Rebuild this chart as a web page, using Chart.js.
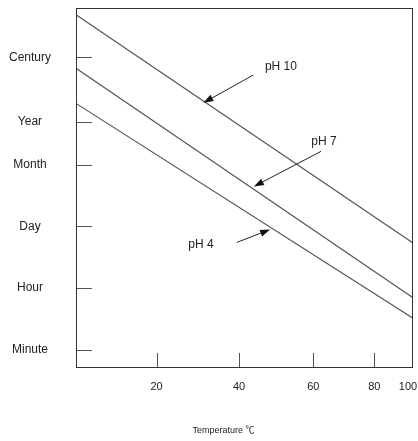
<!DOCTYPE html>
<html>
<head>
    <title>Stability vs Temperature</title>
    <script src="https://cdn.jsdelivr.net/npm/chart.js@4.4.0/dist/chart.umd.min.js"></script>
    <style>
        html, body {
            margin: 0;
            padding: 0;
            background: #fff;
        }
        .chart-box {
            width: 418px;
            height: 441px;
        }
    </style>
</head>
<body>
    <div class="chart-box">
        <canvas id="phChart"></canvas>
    </div>

    <script>
        // vertical axis: time labels and where each one sits (axis is not even)
        const timeLabels = ['Minute', 'Hour', 'Day', 'Month', 'Year', 'Century'];
        const timeAt = [1, 2, 3, 4, 4.7, 5.75];

        // horizontal axis: temperature labels and their place on the axis
        const tempLabels = ['20', '40', '60', '80', '100'];
        const tempAt = [23.9, 48.4, 70.4, 88.5, 98.5];
        const tempTitle = 'Temperature ℃';

        // the three straight lines, start and end value
        const seriesNames = ['pH 10', 'pH 7', 'pH 4'];
        const lineX = [0, 100];
        const ph10 = [6.44, 2.73];
        const ph7 = [5.57, 1.84];
        const ph4 = [5.00, 1.51];

        // callout text and arrow (tail -> tip) for each line, in axis units
        const labelAt = [[60.8, 5.60], [73.6, 4.38], [37.1, 2.70]];
        const arrowFrom = [[52.6, 5.46], [72.7, 4.22], [47.7, 2.74]];
        const arrowTo = [[37.8, 5.01], [52.8, 3.65], [57.6, 2.95]];

        const FONT = "'Liberation Sans', Arial, 'Noto Sans CJK KR', sans-serif";

        const toPoints = ys => lineX.map((x, i) => ({ x: x, y: ys[i] }));

        // keep the plot box where it is, labels may hang over the edge
        const noPad = s => {
            s.paddingTop = 0;
            s.paddingBottom = 0;
            s.paddingLeft = 0;
            s.paddingRight = 0;
        };

        // frame, inward tick marks, axis title and the pH callouts
        const decor = {
            id: 'decor',
            afterDatasetsDraw(chart) {
                const { ctx, chartArea: a, scales: { x, y } } = chart;
                ctx.save();

                const seg = (x1, y1, x2, y2) => {
                    ctx.beginPath();
                    ctx.moveTo(x1, y1);
                    ctx.lineTo(x2, y2);
                    ctx.stroke();
                };

                ctx.lineWidth = 1;
                ctx.strokeStyle = '#555';
                timeAt.forEach(v => {
                    const py = Math.round(y.getPixelForValue(v)) + 0.5;
                    seg(a.left, py, a.left + 16, py);
                });
                // 100 sits on the frame, no mark for it
                tempAt.slice(0, -1).forEach(v => {
                    const px = Math.round(x.getPixelForValue(v)) + 0.5;
                    seg(px, a.bottom, px, a.bottom - 15);
                });

                ctx.strokeStyle = '#333';
                ctx.strokeRect(a.left + 0.5, a.top + 0.5, a.width - 1, a.height - 1);

                // axis title, a bit left of the middle like the original
                ctx.textAlign = 'center';
                ctx.textBaseline = 'middle';
                ctx.fillStyle = '#222';
                ctx.font = '9px ' + FONT;
                ctx.fillText(tempTitle, x.getPixelForValue(43.8), x.bottom - 10);

                // callouts
                ctx.font = '12px ' + FONT;
                seriesNames.forEach((name, i) => {
                    ctx.fillText(name, x.getPixelForValue(labelAt[i][0]), y.getPixelForValue(labelAt[i][1]));

                    const x1 = x.getPixelForValue(arrowFrom[i][0]);
                    const y1 = y.getPixelForValue(arrowFrom[i][1]);
                    const x2 = x.getPixelForValue(arrowTo[i][0]);
                    const y2 = y.getPixelForValue(arrowTo[i][1]);
                    const ang = Math.atan2(y2 - y1, x2 - x1);
                    const len = 10, half = 3.5;
                    const bx = x2 - len * Math.cos(ang);
                    const by = y2 - len * Math.sin(ang);

                    ctx.strokeStyle = '#222';
                    seg(x1, y1, bx, by);
                    ctx.beginPath();
                    ctx.moveTo(x2, y2);
                    ctx.lineTo(bx + half * Math.sin(ang), by - half * Math.cos(ang));
                    ctx.lineTo(bx - half * Math.sin(ang), by + half * Math.cos(ang));
                    ctx.closePath();
                    ctx.fillStyle = '#111';
                    ctx.fill();
                    ctx.fillStyle = '#222';
                });

                ctx.restore();
            }
        };

        const lineStyle = {
            borderColor: '#555',
            borderWidth: 1.2,
            pointRadius: 0,
            fill: false,
            tension: 0
        };

        new Chart(document.getElementById('phChart'), {
            type: 'line',
            data: {
                datasets: [
                    { label: seriesNames[0], data: toPoints(ph10), ...lineStyle },
                    { label: seriesNames[1], data: toPoints(ph7), ...lineStyle },
                    { label: seriesNames[2], data: toPoints(ph4), ...lineStyle }
                ]
            },
            options: {
                responsive: true,
                maintainAspectRatio: false,
                animation: false,
                layout: {
                    padding: { top: 8, right: 5, left: 0, bottom: 0 }
                },
                plugins: {
                    legend: { display: false },
                    tooltip: { enabled: false }
                },
                scales: {
                    x: {
                        type: 'linear',
                        min: 0,
                        max: 100,
                        afterBuildTicks: s => { s.ticks = tempAt.map(v => ({ value: v })); },
                        afterFit: s => { s.height = 73; noPad(s); },
                        grid: { display: false, drawTicks: false },
                        border: { display: false },
                        ticks: {
                            callback: (v, i) => tempLabels[i],
                            autoSkip: false,
                            maxRotation: 0,
                            padding: 12,
                            color: '#222',
                            font: { family: FONT, size: 11 }
                        }
                    },
                    y: {
                        type: 'linear',
                        min: 0.7,
                        max: 6.55,
                        afterBuildTicks: s => { s.ticks = timeAt.map(v => ({ value: v })); },
                        afterFit: s => { s.width = 76; noPad(s); },
                        grid: { display: false, drawTicks: false },
                        border: { display: false },
                        ticks: {
                            callback: (v, i) => timeLabels[i],
                            autoSkip: false,
                            crossAlign: 'center',
                            padding: 25,
                            color: '#222',
                            font: { family: FONT, size: 12 }
                        }
                    }
                }
            },
            plugins: [decor]
        });
    </script>
</body>
</html>
